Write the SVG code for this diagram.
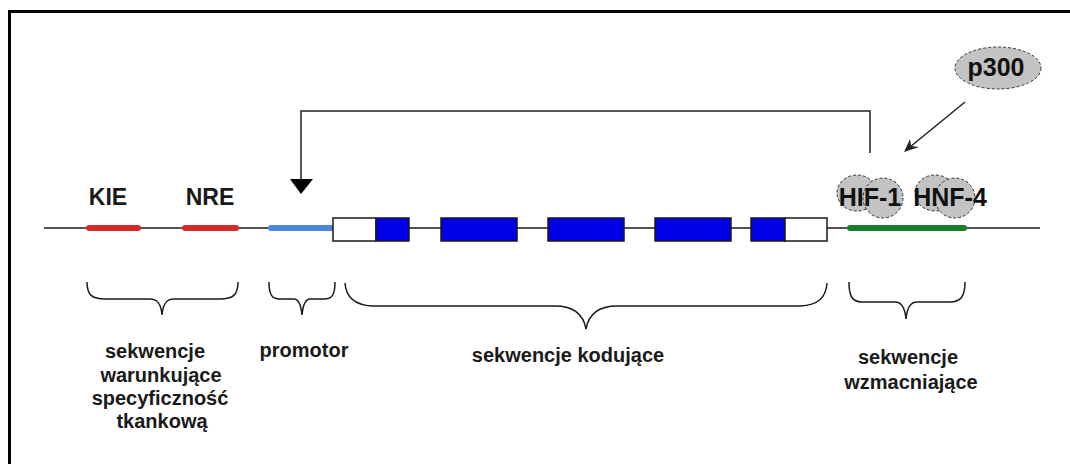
<svg xmlns="http://www.w3.org/2000/svg" width="1070" height="464" viewBox="0 0 1070 464">
  <style>
    .frame { fill: none; stroke: #000; stroke-width: 3; }
    .dna { stroke: #1a1a1a; stroke-width: 1.5; fill: none; }
    .seg { stroke-width: 6; stroke-linecap: round; fill: none; }
    .exon { fill: #0000e6; stroke: #1a1a1a; stroke-width: 1.5; }
    .utr { fill: #ffffff; stroke: #1a1a1a; stroke-width: 1.5; }
    .factor { fill: #c3c3c3; stroke: #333; stroke-width: 1; stroke-dasharray: 3 2; }
    .brace { fill: none; stroke: #1a1a1a; stroke-width: 1.5; }
    .link { fill: none; stroke: #222; stroke-width: 1.5; }
    .elem { font-family: "Liberation Sans", Arial, sans-serif; font-weight: bold; font-size: 23px; fill: #1a1a1a; text-anchor: middle; }
    .prot { font-family: "Liberation Sans", Arial, sans-serif; font-weight: bold; font-size: 25px; fill: #111; text-anchor: middle; }
    .label { font-family: "Liberation Sans", Arial, sans-serif; font-weight: bold; font-size: 20px; fill: #1a1a1a; text-anchor: middle; }
  </style>

  <!-- outer frame (open at right and bottom) -->
  <path class="frame" d="M9.5,466 V11.5 H1072"/>

  <!-- DNA strand -->
  <g id="strand">
    <line class="dna" x1="44" y1="228" x2="1040" y2="228"/>
  </g>

  <!-- regulatory elements -->
  <g id="kie">
    <line class="seg" x1="89" y1="228" x2="138" y2="228" stroke="#d42a2a"/>
    <text class="elem" x="108" y="205">KIE</text>
  </g>
  <g id="nre">
    <line class="seg" x1="185" y1="228" x2="236" y2="228" stroke="#d42a2a"/>
    <text class="elem" x="210" y="205">NRE</text>
  </g>
  <g id="promoter">
    <line class="seg" x1="271" y1="228" x2="333" y2="228" stroke="#4f86e0"/>
  </g>

  <!-- gene: UTRs and exons -->
  <g id="gene">
    <rect class="utr" x="333" y="218" width="43" height="23"/>
    <rect class="exon" x="376" y="218" width="33" height="23"/>
    <rect class="exon" x="441" y="218" width="76" height="23"/>
    <rect class="exon" x="548" y="218" width="76" height="23"/>
    <rect class="exon" x="655" y="218" width="76" height="23"/>
    <rect class="exon" x="751" y="218" width="34" height="23"/>
    <rect class="utr" x="785" y="218" width="42" height="23"/>
  </g>

  <!-- enhancer region with bound factors -->
  <g id="enhancer">
    <line class="seg" x1="850" y1="228" x2="964" y2="228" stroke="#1b7d2b"/>
  </g>
  <g id="hif1">
    <ellipse class="factor" cx="857" cy="193" rx="20" ry="18"/>
    <ellipse class="factor" cx="883" cy="198" rx="20" ry="20"/>
    <text class="prot" x="870" y="206">HIF-1</text>
  </g>
  <g id="hnf4">
    <ellipse class="factor" cx="935" cy="193" rx="20" ry="18"/>
    <ellipse class="factor" cx="955" cy="198" rx="20" ry="20"/>
    <text class="prot" x="950" y="206">HNF-4</text>
  </g>
  <g id="p300">
    <ellipse class="factor" cx="998" cy="68" rx="43" ry="21"/>
    <text class="prot" x="996" y="76">p300</text>
  </g>

  <!-- connectors -->
  <g id="connectors">
    <path class="link" d="M870,153 V111 H301 V181"/>
    <polygon points="290,179 313,179 301,194" fill="#000"/>
    <line class="link" x1="965" y1="102" x2="910" y2="147" stroke-width="1.3"/>
    <polygon points="904,152 910,139 911,146 919,147" fill="#222"/>
  </g>

  <!-- braces -->
  <g id="brace-tissue">
    <path class="brace" d="M87,282 C87,295 92,299 105,299 H150 C157,299 161,303 162,315 C163,303 167,299 174,299 H220 C233,299 238,295 238,282"/>
    <text class="label" x="155" y="358">sekwencje</text>
    <text class="label" x="161" y="382">warunkujące</text>
    <text class="label" x="160" y="405">specyficzność</text>
    <text class="label" x="162" y="428">tkankową</text>
  </g>
  <g id="brace-promoter">
    <path class="brace" d="M269,282 C269,295 272,299 280,299 H294 C299,299 301,305 302,315 C303,305 305,299 310,299 H324 C332,299 335,295 335,282"/>
    <text class="label" x="304" y="357">promotor</text>
  </g>
  <g id="brace-coding">
    <path class="brace" d="M345,283 C346,298 355,305 372,306 H555 C570,306 583,312 586,329 C589,312 602,306 617,306 H800 C818,305 826,298 827,283"/>
    <text class="label" x="568" y="362">sekwencje kodujące</text>
  </g>
  <g id="brace-enhancer">
    <path class="brace" d="M849,282 C849,296 852,302 862,302 H895 C902,302 905,308 906,319 C907,308 910,302 917,302 H950 C961,302 965,296 965,282"/>
    <text class="label" x="908" y="364">sekwencje</text>
    <text class="label" x="911" y="389">wzmacniające</text>
  </g>
</svg>
